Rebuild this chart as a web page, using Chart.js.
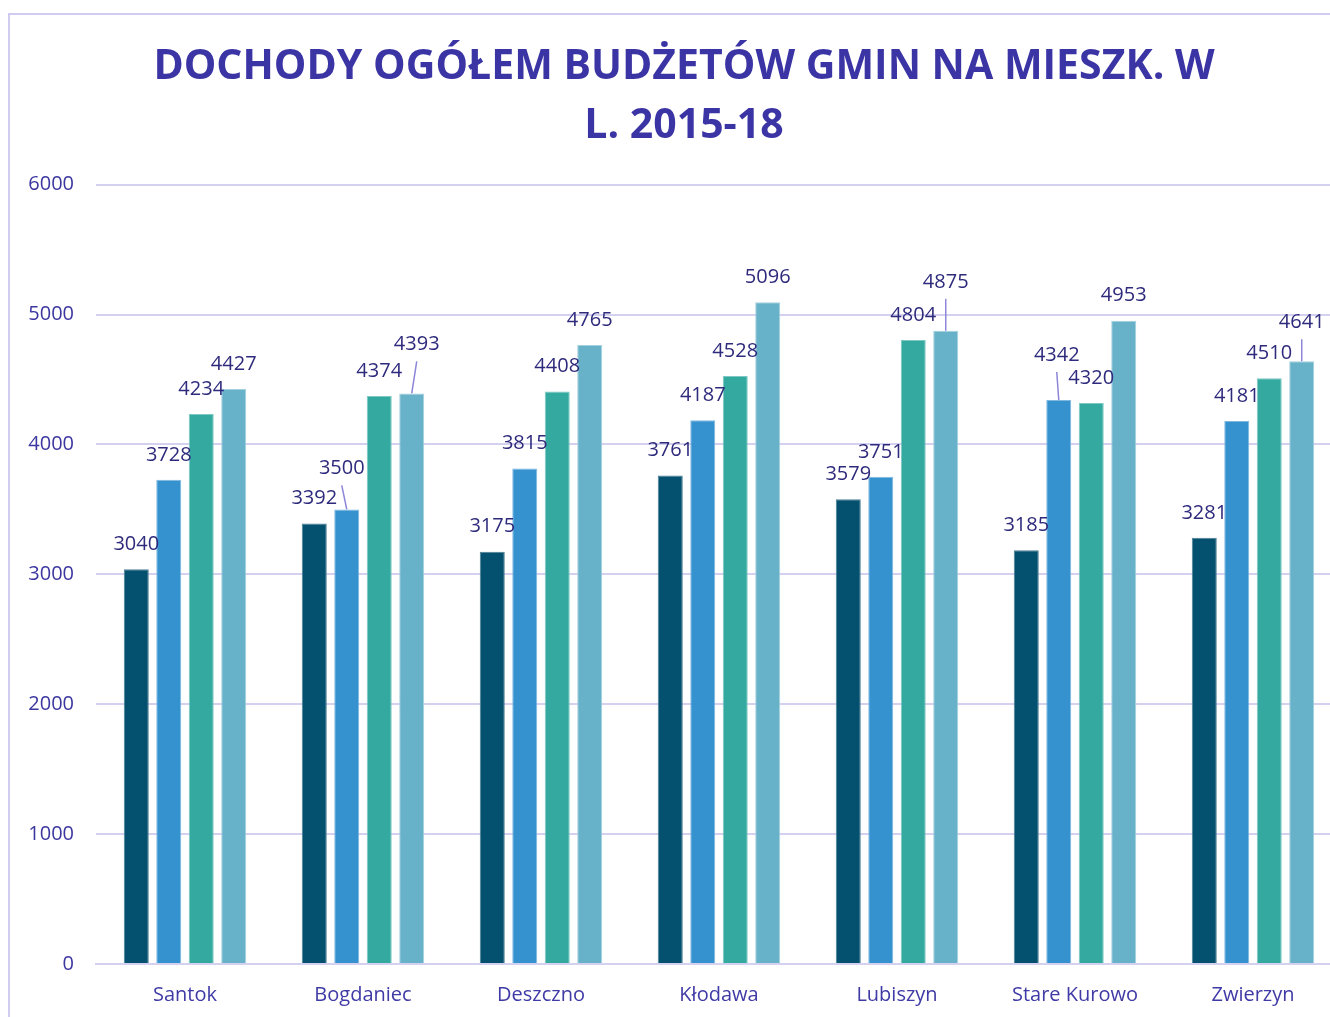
<!DOCTYPE html>
<html>
<head>
<meta charset="utf-8">
<script src="https://cdn.jsdelivr.net/npm/chart.js@4.4.1/dist/chart.umd.min.js"></script>
<style>
  html, body { margin: 0; padding: 0; background: #fff; overflow: hidden; width: 1330px; height: 1017px; }
  #frame {
    position: absolute; left: 8px; top: 13px;
    border-left: 2px solid #d0ccf0; border-top: 2px solid #d0ccf0;
    width: 1340px; height: 1040px;
  }
  #chart { display: block; }
</style>
</head>
<body>
<div id="frame"><canvas id="chart" width="1340" height="1040"></canvas></div>
<script>
// Data
const categories = ['Santok', 'Bogdaniec', 'Deszczno', 'Kłodawa', 'Lubiszyn', 'Stare Kurowo', 'Zwierzyn'];
const years = ['2015', '2016', '2017', '2018'];
const y2015 = [3040, 3392, 3175, 3761, 3579, 3185, 3281];
const y2016 = [3728, 3500, 3815, 4187, 3751, 4342, 4181];
const y2017 = [4234, 4374, 4408, 4528, 4804, 4320, 4510];
const y2018 = [4427, 4393, 4765, 5096, 4875, 4953, 4641];

const barColors = ['#04506f', '#3592cf', '#33a9a0', '#67b1c9'];
const barBorders = ['#4d7f95', '#7fb9e0', '#7bc9c2', '#a3d0de'];

// labels that were dragged away from the bar top: "dataset,index" -> [dx, dy]
const labelNudge = {
  '1,1': [-5, -16],
  '3,1': [5, -24],
  '3,4': [0, -24],
  '1,5': [-2, -20],
  '3,6': [0, -14],
};

// Draw value labels above bars (with leader lines for the moved ones)
const valueLabels = {
  id: 'valueLabels',
  afterDatasetsDraw(chart) {
    const ctx = chart.ctx;
    ctx.save();
    ctx.font = '20px "Open Sans"';
    ctx.fillStyle = '#2e2a7c';
    ctx.textAlign = 'center';
    ctx.textBaseline = 'middle';
    chart.data.datasets.forEach((ds, di) => {
      const meta = chart.getDatasetMeta(di);
      meta.data.forEach((bar, i) => {
        const nudge = labelNudge[di + ',' + i];
        const lx = bar.x + (nudge ? nudge[0] : 0);
        const ly = bar.y - 25 + (nudge ? nudge[1] : 0);
        if (nudge) {
          ctx.beginPath();
          ctx.strokeStyle = '#8c86d8';
          ctx.lineWidth = 1.5;
          ctx.moveTo(lx, ly + 17);
          ctx.lineTo(bar.x, bar.y);
          ctx.stroke();
        }
        ctx.fillText(String(ds.data[i]), lx, ly);
      });
    });
    ctx.restore();
  },
};

const series = [y2015, y2016, y2017, y2018];

new Chart(document.getElementById('chart'), {
  type: 'bar',
  data: {
    labels: categories,
    datasets: series.map((values, k) => ({
      label: years[k],
      data: values,
      backgroundColor: barColors[k],
      borderColor: barBorders[k],
      borderWidth: 1,
      categoryPercentage: 0.73,
      barPercentage: 0.77,
    })),
  },
  options: {
    responsive: false,
    animation: false,
    layout: { padding: { left: 16, right: 8, top: 0, bottom: 31 } },
    plugins: {
      legend: { display: false },
      tooltip: { enabled: false },
      title: {
        display: true,
        text: ['DOCHODY OGÓŁEM BUDŻETÓW GMIN NA MIESZK. W', 'L. 2015-18'],
        color: '#3b34a4',
        font: { family: '"Open Sans"', size: 41, weight: 'bold', lineHeight: 1.46 },
        padding: { top: 22, bottom: 28 },
      },
    },
    scales: {
      x: {
        grid: { display: false, drawTicks: false },
        border: { display: true, color: '#d4d0f0', width: 2 },
        ticks: { color: '#3f3aa5', font: { family: '"Open Sans"', size: 20 }, padding: 19 },
        afterFit: (scale) => { scale.height = 60; },
      },
      y: {
        min: 0,
        max: 6000,
        grid: { color: '#d4d0f0', lineWidth: 2, drawTicks: false },
        border: { display: false },
        ticks: {
          stepSize: 1000,
          color: '#3b36a0',
          font: { family: '"Open Sans"', size: 20 },
          padding: 22,
          callback: (value) => String(value),
        },
        afterFit: (scale) => { scale.width = 70; },
      },
    },
  },
  plugins: [valueLabels],
});
</script>
</body>
</html>
